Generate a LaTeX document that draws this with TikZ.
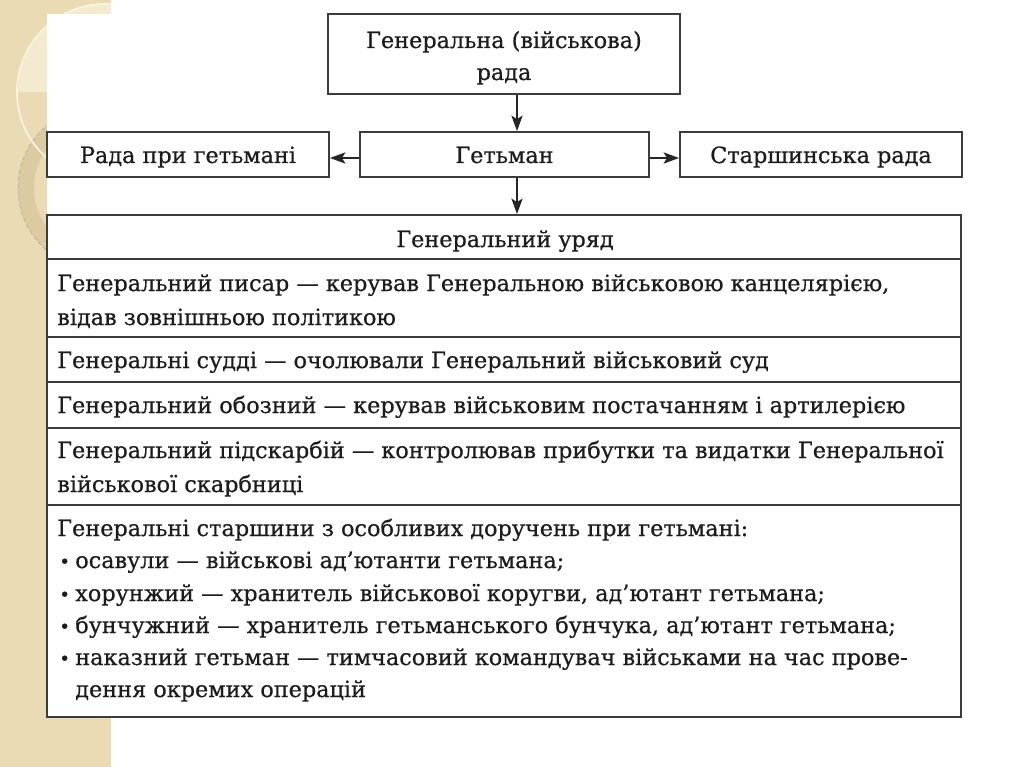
\documentclass[tikz,border=0pt]{standalone}
\usepackage{fontspec}
\setmainfont[FakeBold=0.6]{DejaVu Serif}
\usetikzlibrary{arrows.meta}
\definecolor{beige}{RGB}{234,219,181}
\definecolor{beigedark}{RGB}{220,202,160}
\definecolor{beigelight}{RGB}{243,234,208}
\definecolor{linegray}{RGB}{60,60,60}
\definecolor{txtgray}{RGB}{28,28,28}
\newcommand{\bodyfont}{\fontsize{15.9}{22}\selectfont}
\begin{document}
\begin{tikzpicture}[x=0.025cm,y=-0.025cm,
  box/.style={draw=linegray, line width=1.4pt, fill=white, inner sep=0pt},
  arr/.style={draw=black!85, line width=1.1pt, -{Stealth[length=11pt,width=8pt,inset=2.5pt]}},
  txt/.style={anchor=base west, inner sep=0pt, text=txtgray, font=\bodyfont},
  ctxt/.style={anchor=base, inner sep=0pt, text=txtgray, font=\bodyfont},
  bul/.style={anchor=base west, inner sep=0pt, text=txtgray, font=\fontsize{13}{16}\selectfont},
  divider/.style={draw=linegray, line width=1.2pt}]
\useasboundingbox (0,0) rectangle (1024,767);
% slide background
\fill[white] (0,0) rectangle (1024,767);
\fill[beige] (0,0) rectangle (111,767);
\begin{scope}
  \clip (0,0) rectangle (111,767);
  \fill[beigelight] (105,92) circle[radius=2.2cm];
  \fill[beige] (0,92) rectangle (111,300);
  \fill[beigedark, even odd rule] (100,188) circle[radius=2.05cm] (100,188) circle[radius=1.65cm];
  \draw[black!35, densely dashed, line width=0.4pt] (100,188) circle[radius=2.05cm];
  \draw[beigelight!60!white, line width=1.2pt] (105,92) circle[radius=2.2cm];
\end{scope}
\fill[white] (47,14) rectangle (1024,717);

% top boxes
\node[box, minimum width=352*0.025cm, minimum height=80*0.025cm] (gr) at (504,54) {};
\node[ctxt] (grt1) at (504,48) {Генеральна (військова)};
\node[ctxt] (grt2) at (504,80) {рада};

\node[box, minimum width=289*0.025cm, minimum height=45*0.025cm] (het) at (504.5,154.5) {};
\node[ctxt] (hett) at (504.5,163) {Гетьман};

\node[box, minimum width=282*0.025cm, minimum height=45*0.025cm] (rada) at (188,154.5) {};
\node[ctxt] (radat) at (188,163) {Рада при гетьмані};

\node[box, minimum width=282*0.025cm, minimum height=45*0.025cm] (star) at (821,154.5) {};
\node[ctxt] (start) at (821,163) {Старшинська рада};

% main box
\node[box, minimum width=914*0.025cm, minimum height=502*0.025cm] (main) at (504,466) {};

\coordinate (ax) at (517,0);
\coordinate (ay) at (0,158);
\draw[arr] (gr.south -| ax) -- (het.north -| ax);
\draw[arr] (het.south -| ax) -- (main.north -| ax);
\draw[arr] (het.west |- ay) -- (rada.east |- ay);
\draw[arr] (het.east |- ay) -- (star.west |- ay);

% dividers
\foreach \yy in {259,337,382,428,505}
  \draw[divider] (main.west |- 0,\yy) -- (main.east |- 0,\yy);

% row texts
\node[ctxt] (r1) at (505,247) {Генеральний уряд};
\node[txt] (r2a) at (57,291) {Генеральний писар — керував Генеральною військовою канцелярією,};
\node[txt] (r2b) at (57,325) {відав зовнішньою політикою};
\node[txt] (r3) at (57,368) {Генеральні судді — очолювали Генеральний військовий суд};
\node[txt] (r4) at (57,413) {Генеральний обозний — керував військовим постачанням і артилерією};
\node[txt] (r5a) at (57,458) {Генеральний підскарбій — контролював прибутки та видатки Генеральної};
\node[txt] (r5b) at (57,492) {військової скарбниці};
\node[txt] (r6) at (57,536) {Генеральні старшини з особливих доручень при гетьмані:};
\foreach \yy/\t [count=\i] in {568/{осавули — військові ад’ютанти гетьмана;},
   601/{хорунжий — хранитель військової коругви, ад’ютант гетьмана;},
   633/{бунчужний — хранитель гетьманського бунчука, ад’ютант гетьмана;},
   665/{наказний гетьман — тимчасовий командувач військами на час прове-}}{
  \node[bul] (b\i) at (59,\yy) {•};
  \node[txt] (bt\i) at (75,\yy) {\t};
}
\node[txt] (bt5) at (75,697) {дення окремих операцій};
\end{tikzpicture}
\end{document}
